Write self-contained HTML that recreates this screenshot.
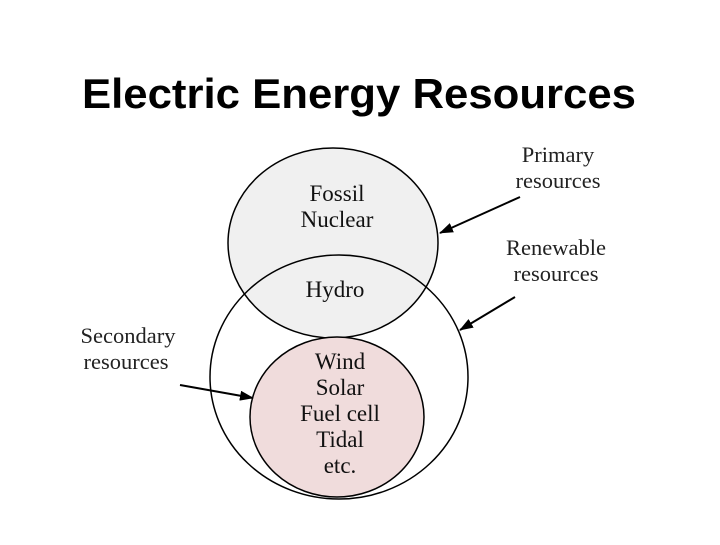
<!DOCTYPE html>
<html><head><style>
body{margin:0;background:#fff;}
</style></head><body>
<svg width="720" height="540" xmlns="http://www.w3.org/2000/svg">
<defs>
<marker id="b" viewBox="0 0 14 10" markerWidth="14" markerHeight="10" refX="13" refY="5" orient="auto" markerUnits="userSpaceOnUse"><path d="M0,0 L14,5 L0,10 z" fill="#000"/></marker></defs>
<text x="359" y="108" text-anchor="middle" font-family="Liberation Sans, sans-serif" font-weight="bold" font-size="42" textLength="554" lengthAdjust="spacingAndGlyphs">Electric Energy Resources</text>
<ellipse cx="333" cy="243" rx="105" ry="95" fill="#f0f0f0" stroke="#000" stroke-width="1.5"/>
<ellipse cx="339" cy="377" rx="129" ry="122" fill="none" stroke="#000" stroke-width="1.5"/>
<ellipse cx="337" cy="417" rx="87" ry="80" fill="#f0dcdc" stroke="#000" stroke-width="1.5"/>
<g font-family="Liberation Serif, serif" font-size="23" text-anchor="middle" fill="#111">
<text x="337" y="201">Fossil</text>
<text x="337" y="227">Nuclear</text>
<text x="335" y="297">Hydro</text>
<text x="340" y="369">Wind</text>
<text x="340" y="395">Solar</text>
<text x="340" y="421">Fuel cell</text>
<text x="340" y="447">Tidal</text>
<text x="340" y="473">etc.</text>
</g>
<g font-family="Liberation Serif, serif" font-size="22.5" text-anchor="middle" fill="#222">
<text x="558" y="162">Primary</text>
<text x="558" y="188">resources</text>
<text x="556" y="255">Renewable</text>
<text x="556" y="281">resources</text>
<text x="128" y="343">Secondary</text>
<text x="126" y="369">resources</text>
</g>
<g stroke="#000" stroke-width="2" fill="none">
<line x1="520" y1="197" x2="440" y2="233" marker-end="url(#b)"/>
<line x1="515" y1="297" x2="460" y2="330" marker-end="url(#b)"/>
<line x1="180" y1="385" x2="253" y2="398" marker-end="url(#b)"/>
</g>
</svg>
</body></html>
